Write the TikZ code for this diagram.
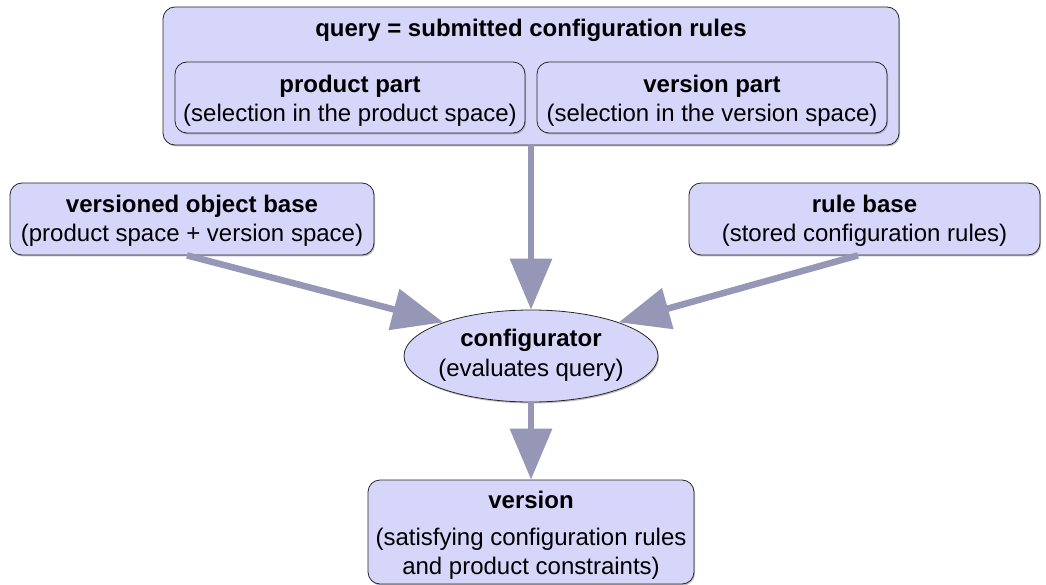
\documentclass[tikz,border=0pt]{standalone}
\usepackage{fontspec}
\setmainfont{Liberation Sans}
\usetikzlibrary{arrows.meta,shadows,shapes.geometric}
\definecolor{boxfill}{RGB}{214,214,250}
\definecolor{arrowc}{RGB}{150,150,182}
\definecolor{boxline}{RGB}{40,40,40}
\begin{document}
\begin{tikzpicture}[x=1pt,y=-1pt,
  box/.style={draw=boxline, line width=0.8pt, fill=boxfill, rounded corners=12pt, inner sep=0pt,
    drop shadow={shadow xshift=1pt,shadow yshift=-1.5pt,fill=black!50}},
  oval/.style={ellipse, draw=boxline, line width=0.8pt, fill=boxfill, inner sep=0pt,
    drop shadow={shadow xshift=1pt,shadow yshift=-1.5pt,fill=black!50}},
  txt/.style={anchor=base, inner sep=0pt, font=\fontsize{24}{29}\selectfont},
  ttl/.style={anchor=base, inner sep=0pt, font=\fontsize{24}{29}\selectfont\bfseries},
  flow/.style={draw=arrowc, line width=6.5pt, -{Triangle[width=41pt,length=51pt]}, color=arrowc}
]
\fill[white] (0,0) rectangle (1046,585);
\useasboundingbox (0,0) rectangle (1046,585);

% query box
\node[box, minimum width=736pt, minimum height=138pt] (query) at (531,76) {};
\node[ttl] (qtitle) at (531,37) {query = submitted configuration rules};
\node[box, minimum width=350pt, minimum height=71pt] (prod) at (350,97.5) {};
\node[ttl] (prodt) at (350,93) {product part};
\node[txt] (prods) at (350,122) {(selection in the product space)};
\node[box, minimum width=350pt, minimum height=71pt] (verp) at (712,97.5) {};
\node[ttl] (verpt) at (712,93) {version part};
\node[txt] (verps) at (712,122) {(selection in the version space)};

% side boxes
\node[box, minimum width=364pt, minimum height=72pt] (voba) at (192,219) {};
\node[ttl] (vobat) at (192,213) {versioned object base};
\node[txt] (vobas) at (192,242) {(product space + version space)};
\node[box, minimum width=351pt, minimum height=72pt] (rule) at (864.5,219) {};
\node[ttl] (rulet) at (864.5,213) {rule base};
\node[txt] (rules) at (864.5,242) {(stored configuration rules)};

% configurator
\node[oval, minimum width=254pt, minimum height=92pt] (conf) at (531,356) {};
\node[ttl] (conft) at (531,346) {configurator};
\node[txt] (confs) at (531,376) {(evaluates query)};

% version
\node[box, minimum width=326pt, minimum height=104pt] (version) at (531,532) {};
\node[ttl] (versiont) at (531,508) {version};
\node[txt] (versions1) at (531,545) {(satisfying configuration rules};
\node[txt] (versions2) at (531,574) {and product constraints)};

% arrows
\draw[flow] (query.south) -- (conf.north);
\draw[flow] ([xshift=-5pt]voba.south) -- (conf.159);
\draw[flow] ([xshift=-6.5pt]rule.south) -- (conf.21);
\draw[flow] (conf.south) -- (version.north);
\end{tikzpicture}
\end{document}
